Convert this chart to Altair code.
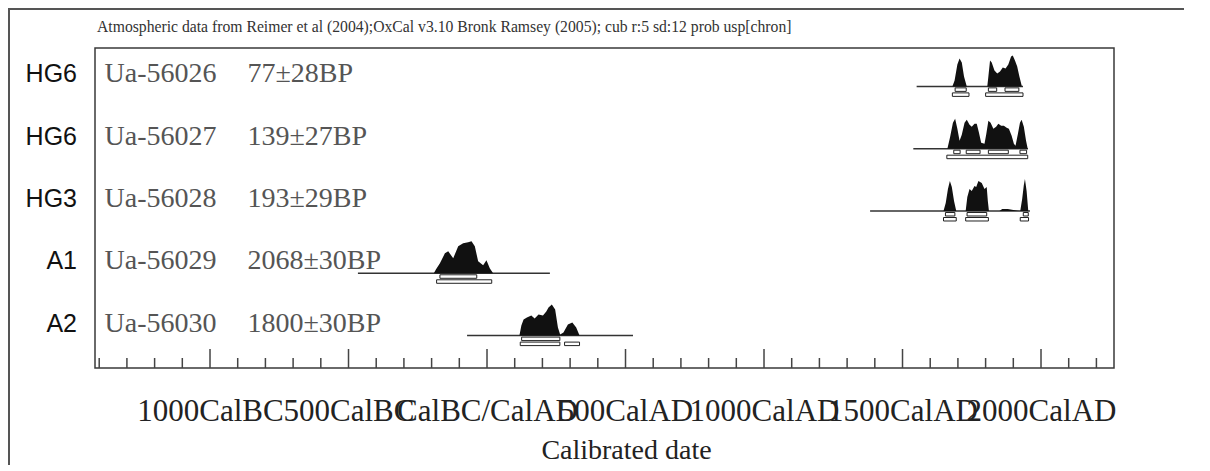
import altair as alt
import pandas as pd

# ---------------- data ----------------
title_text = ("Atmospheric data from Reimer et al (2004);OxCal v3.10 Bronk Ramsey (2005); "
              "cub r:5 sd:12 prob usp[chron]")

groups = ["HG6", "HG6", "HG3", "A1", "A2"]
lab_ids = ["Ua-56026", "Ua-56027", "Ua-56028", "Ua-56029", "Ua-56030"]
bp_ages = ["77±28BP", "139±27BP", "193±29BP", "2068±30BP", "1800±30BP"]
line_start = [1551, 1539, 1383, -466, -72]
line_end = [1935, 1953, 1960, 227, 527]

dens_years = {
    "Ua-56026": [1680, 1688, 1698, 1706, 1714, 1722, 1732, 1806, 1810, 1816, 1822, 1832, 1842,
                 1852, 1862, 1872, 1882, 1892, 1898, 1906, 1914, 1922, 1931],
    "Ua-56027": [1662, 1672, 1682, 1690, 1698, 1706, 1714, 1724, 1732, 1742, 1750, 1760, 1768,
                 1776, 1784, 1796, 1802, 1810, 1818, 1828, 1838, 1846, 1856, 1866, 1876, 1884,
                 1894, 1902, 1908, 1916, 1924, 1930, 1938, 1946, 1952],
    "Ua-56028": [1648, 1656, 1664, 1671, 1678, 1686, 1694, 1728, 1734, 1742, 1750, 1760, 1766,
                 1774, 1786, 1796, 1804, 1808, 1812, 1850, 1860, 1880, 1900, 1925, 1932, 1938,
                 1942, 1948, 1954],
    "Ua-56029": [-192, -184, -170, -152, -140, -122, -104, -86, -68, -56, -44, -32, -14, -2,
                 10, 22],
    "Ua-56030": [117, 124, 132, 144, 160, 172, 186, 202, 214, 222, 234, 246, 256, 264, 276,
                 292, 308, 322, 334],
}
dens_vals = {
    "Ua-56026": [0, 6, 22, 28, 24, 10, 0, 0, 10, 26, 24, 16, 13, 15, 19, 18, 22, 30, 31, 26,
                 20, 10, 0],
    "Ua-56027": [0, 12, 26, 30, 20, 8, 14, 26, 29, 24, 22, 25, 25, 16, 6, 5, 14, 28, 26, 20,
                 22, 25, 23, 23, 21, 20, 13, 5, 3, 14, 26, 29, 22, 8, 0],
    "Ua-56028": [0, 8, 22, 30, 24, 10, 0, 0, 14, 22, 20, 25, 24, 30, 28, 22, 24, 10, 0, 0, 2,
                 2, 1, 0, 12, 26, 32, 20, 0],
    "Ua-56029": [0, 4, 10, 20, 22, 15, 27, 30, 31, 32, 27, 12, 8, 13, 5, 0],
    "Ua-56030": [0, 10, 16, 18, 20, 17, 21, 20, 24, 28, 31, 26, 8, 1, 3, 11, 13, 8, 0],
}
range68 = {
    "Ua-56026": [(1690, 1730), (1810, 1840), (1870, 1920)],
    "Ua-56027": [(1685, 1708), (1730, 1780), (1810, 1882), (1924, 1948)],
    "Ua-56028": [(1655, 1689), (1733, 1804), (1936, 1954)],
    "Ua-56029": [(-170, -37)],
    "Ua-56030": [(125, 263)],
}
range95 = {
    "Ua-56026": [(1680, 1740), (1800, 1935)],
    "Ua-56027": [(1660, 1952)],
    "Ua-56028": [(1648, 1694), (1728, 1810), (1925, 1955)],
    "Ua-56029": [(-182, 17)],
    "Ua-56030": [(120, 263), (280, 334)],
}

tick_years = [-1400, -1300, -1200, -1100, -1000, -900, -800, -700, -600, -500, -400, -300,
              -200, -100, 0, 100, 200, 300, 400, 500, 600, 700, 800, 900, 1000, 1100, 1200,
              1300, 1400, 1500, 1600, 1700, 1800, 1900, 2000, 2100, 2200]
major_years = [-1000, -500, 0, 500, 1000, 1500, 2000]
major_labels = ["1000CalBC", "500CalBC", "CalBC/CalAD", "500CalAD", "1000CalAD",
                "1500CalAD", "2000CalAD"]

# ---------------- tables ----------------
n = len(lab_ids)
rows = pd.DataFrame({
    "sample": lab_ids, "group": groups, "bp": bp_ages,
    "start": line_start, "end": line_end,
    "base": [n - 1 - k for k in range(n)],
})
base_of = dict(zip(lab_ids, rows["base"]))

dens = pd.DataFrame([
    {"sample": s, "year": y, "p": p, "base": base_of[s]}
    for s in lab_ids for y, p in zip(dens_years[s], dens_vals[s])
])
ranges = pd.DataFrame(
    [{"sample": s, "level": 68, "a": a, "b": b, "base": base_of[s]} for s in lab_ids for a, b in range68[s]] +
    [{"sample": s, "level": 95, "a": a, "b": b, "base": base_of[s]} for s in lab_ids for a, b in range95[s]]
)
ticks = pd.DataFrame({"year": tick_years,
                      "major": [y in major_years for y in tick_years]})

# ---------------- scales / axis ----------------
W, H = 1019, 320
ROW_PX = 62.3
xscale = alt.Scale(domain=[-1415.2, 2263.5], nice=False, zero=False)
yscale = alt.Scale(domain=[-0.52, 4.616], nice=False, zero=False)

label_expr = " : ".join(f"datum.value == {v} ? '{l}'" for v, l in zip(major_years, major_labels)) + " : ''"
xaxis = alt.Axis(values=major_years, labelExpr=label_expr, ticks=False, tickSize=0,
                 domain=False, grid=False, labelFont="Liberation Serif", labelFontSize=31,
                 labelColor="#222", labelPadding=52, labelBaseline="alphabetic",
                 labelOverlap=False, labelFlush=False, labelBound=False, labelLimit=0,
                 title="Calibrated date", titleFont="Liberation Serif", titleFontSize=28,
                 titleFontWeight="normal", titleColor="#222", titleX=531, titleY=90,
                 titleBaseline="alphabetic", titleAlign="center")


def X(f):
    return alt.X(f, type="quantitative", scale=xscale, axis=xaxis)


def Y(f):
    return alt.Y(f, type="quantitative", scale=yscale, axis=None)


baselines = alt.Chart(rows).mark_rule(color="#333", strokeWidth=1.5).encode(
    x=X("start"), x2="end", y=Y("base"))

areas = alt.Chart(dens).transform_calculate(
    top=f"datum.base + datum.p / {ROW_PX}"
).mark_area(color="#111", interpolate="linear").encode(
    x=X("year"), y=Y("top"), y2="base", detail="sample:N")

bars = alt.Chart(ranges).transform_calculate(
    y1=f"datum.base - (datum.level == 68 ? 1.5 : 6.5) / {ROW_PX}",
    y2=f"datum.base - (datum.level == 68 ? 5 : 10) / {ROW_PX}",
).mark_rect(fill="white", stroke="#222", strokeWidth=1).encode(
    x=X("a"), x2="b", y=Y("y1"), y2="y2")

id_text = alt.Chart(rows).mark_text(
    align="left", baseline="alphabetic", dy=-4, font="Liberation Serif", fontSize=28,
    color="#555").encode(x=alt.value(9.5), y=Y("base"), text="sample:N")
bp_text = alt.Chart(rows).mark_text(
    align="left", baseline="alphabetic", dy=-4, font="Liberation Serif", fontSize=28,
    color="#555").encode(x=alt.value(152.5), y=Y("base"), text="bp:N")
grp_text = alt.Chart(rows).mark_text(
    align="right", baseline="alphabetic", dy=-4, font="Liberation Sans", fontSize=25,
    color="#111").encode(x=alt.value(-18), y=Y("base"), text="group:N")

minor_ticks = alt.Chart(ticks).transform_filter("!datum.major").mark_rule(
    color="#444", strokeWidth=1.5).encode(x=X("year"), y=alt.value(H), y2=alt.value(H - 10))
major_ticks = alt.Chart(ticks).transform_filter("datum.major").mark_rule(
    color="#444", strokeWidth=1.5).encode(x=X("year"), y=alt.value(H), y2=alt.value(H - 19))

top_text = alt.Chart(pd.DataFrame({"t": [title_text]})).mark_text(
    align="left", baseline="alphabetic", font="Liberation Serif", fontSize=15.7,
    color="#333").encode(x=alt.value(2), y=alt.value(-16), text="t:N")

frame_top = alt.Chart(pd.DataFrame({"k": [0]})).mark_rule(color="#555", strokeWidth=2).encode(
    x=alt.value(-87), x2=alt.value(W + 70), y=alt.value(-39))
frame_left = alt.Chart(pd.DataFrame({"k": [0]})).mark_rule(color="#555", strokeWidth=2).encode(
    x=alt.value(-86), y=alt.value(-40), y2=alt.value(H + 97))

chart = alt.layer(
    baselines, areas, bars, id_text, bp_text, grp_text, minor_ticks, major_ticks,
    top_text, frame_top, frame_left
).properties(
    width=W, height=H,
    autosize=alt.AutoSizeParams(type="none"),
    padding={"left": 87, "top": 40, "right": 70, "bottom": 97},
    background="white",
).configure_view(stroke="#3a3a3a", strokeWidth=1.5)

chart.save("out.html", embed_options={"renderer": "svg", "actions": False})
